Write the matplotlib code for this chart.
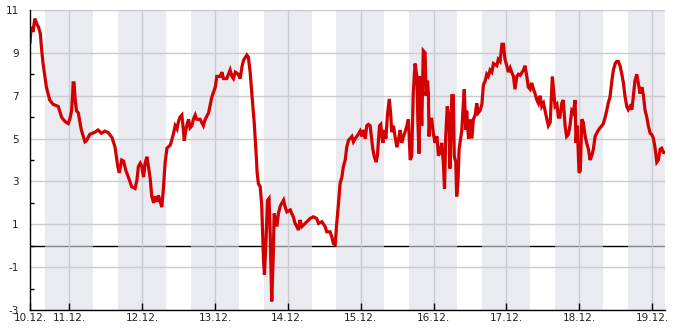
import numpy as np
import matplotlib
matplotlib.use("Agg")
import matplotlib.pyplot as plt

# hours since 10.12. 00:00 and temperature (deg C)
hours = [
    11.1, 11.5, 12.1, 12.7, 13.5, 13.9, 14.5, 14.9, 15.4, 16.5, 17.6, 18.7, 20.4, 21.5, 22.6, 23.7,
    24.2, 24.8, 25.1, 25.3, 25.6, 26.0, 26.4, 27.0, 28.0, 29.2, 29.7, 30.8, 32.5, 33.5, 34.6, 35.8,
    36.9, 38.1, 39.1, 40.0, 40.5, 41.3, 41.9, 42.7, 43.5, 44.6, 45.7, 46.3, 46.8, 47.4, 47.9, 48.5,
    49.0, 49.6, 50.1, 50.7, 51.2, 51.8, 52.3, 52.9, 53.4, 54.0, 54.5, 55.0, 55.6, 56.2, 57.3, 58.3,
    58.9, 59.5, 60.0, 60.5, 61.1, 61.6, 61.9, 62.2, 62.7, 63.3, 63.8, 64.4, 64.9, 65.5, 66.0, 67.1,
    68.2, 68.8, 69.9, 71.0, 72.1, 72.6, 73.7, 74.3, 74.8, 75.9, 77.0, 77.6, 78.1, 78.7, 79.7, 80.3,
    80.9, 81.4, 82.5, 83.0, 83.6, 84.2, 84.9, 85.6, 85.9, 86.3, 86.9, 87.4, 88.0, 88.3, 88.8, 89.3,
    89.8, 90.2, 90.7, 91.2, 91.5, 92.4, 92.9, 93.5, 94.6, 95.1, 95.7, 96.8, 97.3, 97.8, 98.4, 99.0,
    99.5, 100.0, 100.6, 101.7, 102.3, 103.3, 104.4, 105.5, 106.1, 107.2, 108.3, 108.8, 109.9, 110.5,
    111.0, 111.6, 112.1, 112.7, 113.2, 113.8, 114.3, 114.9, 115.4, 116.0, 116.5, 117.1, 117.6, 118.2,
    118.7, 119.2, 119.8, 120.4, 120.9, 121.5, 122.0, 122.5, 123.1, 124.0, 124.4, 125.1, 125.5, 125.8,
    126.2, 126.6, 127.0, 127.3, 127.7, 128.3, 128.8, 129.4, 129.9, 130.2, 130.8, 131.3, 131.9, 132.4,
    133.0, 133.5, 134.1, 134.6, 135.2, 135.7, 136.3, 136.8, 137.3, 137.9, 138.5, 138.8, 139.2, 139.6,
    140.1, 140.6, 141.2, 141.5, 142.0, 142.3, 142.5, 142.8, 143.4, 143.9, 144.5, 145.1, 145.6, 146.1,
    146.7, 147.2, 147.6, 148.0, 148.5, 149.1, 149.4, 150.0, 150.5, 150.8, 151.3, 151.6, 152.0, 152.4,
    152.7, 153.3, 153.8, 154.1, 154.6, 154.9, 155.5, 156.0, 156.6, 157.1, 157.7, 158.2, 158.7, 159.3,
    159.9, 160.4, 161.0, 161.5, 162.0, 162.6, 163.2, 163.7, 164.2, 164.8, 165.3, 165.9, 166.5, 167.0,
    167.5, 168.1, 168.6, 169.2, 169.7, 170.3, 170.8, 171.4, 171.9, 172.5, 173.6, 174.1, 174.7, 175.2,
    175.8, 176.3, 176.9, 177.4, 178.0, 178.5, 179.1, 179.6, 180.2, 180.7, 181.3, 181.8, 182.4, 182.7,
    183.1, 183.7, 184.0, 184.6, 185.1, 185.6, 186.2, 186.7, 187.3, 187.8, 188.4, 188.9, 189.5, 190.0,
    190.6, 190.9, 191.3, 191.9, 192.3, 192.8, 193.3, 193.9, 194.4, 195.0, 195.5, 196.1, 196.6, 197.2,
    197.7, 198.3, 198.8, 199.4, 199.9, 200.5, 201.0, 201.5, 202.1, 202.7, 203.2, 203.8, 204.3, 204.8,
    205.4, 206.0, 206.5, 207.0, 207.6, 208.1, 208.7, 209.3, 209.8, 210.3, 210.9, 211.4, 212.0, 212.6,
    213.1, 213.6, 214.2, 214.7, 215.3, 215.8, 216.4, 216.9, 217.5, 218.0, 218.6, 219.1, 219.7, 220.2,
]
temps = [
    9.5, 10.2, 10.0, 10.6, 10.3, 10.2, 9.9, 9.2, 8.5, 7.4, 6.8, 6.6, 6.5, 6.0, 5.8, 5.7,
    5.9, 6.3, 7.0, 7.6, 7.6, 6.8, 6.3, 6.2, 5.4, 4.85, 4.9, 5.2, 5.3, 5.4, 5.25, 5.35,
    5.27, 5.05, 4.6, 3.7, 3.4, 4.0, 3.95, 3.5, 3.2, 2.75, 2.67, 3.05, 3.7, 3.85, 3.7, 3.2,
    3.85, 4.15, 3.7, 3.1, 2.3, 2.0, 2.3, 2.05, 2.35, 2.05, 1.8, 2.6, 3.9, 4.55, 4.7, 5.2,
    5.6, 5.45, 5.8, 6.0, 6.1, 5.4, 4.9, 5.2, 5.6, 5.9, 5.5, 5.6, 5.9, 6.1, 5.9, 5.9,
    5.6, 5.9, 6.2, 6.95, 7.4, 7.9, 7.9, 8.1, 7.8, 7.8, 8.2, 7.9, 7.8, 8.1, 8.0, 7.8,
    8.35, 8.65, 8.9, 8.8, 8.1, 7.0, 5.8, 4.2, 3.4, 2.9, 2.75, 1.9, -0.7, -1.35, 0.2, 2.1,
    2.2, 0.5, -2.6, -0.5, 1.5, 0.9, 1.5, 1.85, 2.13, 1.82, 1.58, 1.67, 1.5, 1.35, 1.04, 0.89,
    0.73, 1.2, 0.89, 1.04, 1.12, 1.27, 1.35, 1.27, 1.04, 1.12, 0.89, 0.65, 0.65, 0.4,
    0.1, 0.05, 1.04, 2.0, 2.9, 3.2, 3.7, 4.0, 4.6, 4.93, 5.0, 5.1, 4.85, 5.0,
    5.1, 5.2, 5.35, 5.1, 5.4, 5.0, 5.6, 5.66, 5.6, 4.5, 4.2, 3.9, 4.2, 4.8,
    5.6, 5.66, 5.1, 4.8, 5.4, 5.0, 6.1, 6.85, 6.1, 5.3, 5.6, 5.1, 4.6, 4.9,
    5.4, 4.8, 5.1, 5.3, 5.6, 5.9, 4.0, 4.2, 7.1, 8.5, 7.9, 5.9, 4.3, 7.9,
    5.6, 9.1, 9.0, 7.0, 7.7, 7.1, 5.1, 5.9, 5.9, 5.25, 4.8, 5.1, 4.2, 4.35,
    4.8, 3.9, 2.65, 5.1, 6.5, 5.9, 3.6, 7.0, 7.0, 4.2, 3.9, 2.3, 2.9, 4.5,
    4.8, 5.4, 6.65, 7.3, 5.4, 6.3, 5.0, 5.9, 5.0, 5.9, 6.1, 6.65, 6.2, 6.3,
    6.6, 7.5, 7.7, 8.0, 7.9, 8.2, 8.1, 8.5, 8.45, 8.4, 8.7, 8.6, 9.4, 9.4,
    8.7, 8.4, 8.1, 8.3, 8.1, 7.9, 7.3, 7.9, 8.0, 7.95, 8.2, 8.4, 7.9, 7.4,
    7.3, 7.6, 7.3, 7.1, 6.8, 6.65, 7.0, 6.5, 6.65, 6.3, 5.9, 5.6, 5.75, 6.65,
    7.9, 7.0, 6.5, 6.6, 6.0, 6.0, 6.65, 6.8, 5.6, 5.1, 5.2, 5.6, 6.3, 6.2,
    6.8, 4.8, 5.6, 3.4, 3.5, 5.9, 5.75, 5.1, 4.8, 4.5, 4.0, 4.2, 4.5, 5.1,
    5.25, 5.4, 5.5, 5.6, 5.7, 6.0, 6.3, 6.65, 6.95, 7.7, 8.2, 8.5, 8.6, 8.6,
    8.4, 8.0, 7.6, 7.0, 6.5, 6.35, 6.5, 6.35, 7.0, 7.7, 8.0, 7.6, 7.1, 7.4,
    7.0, 6.35, 6.0, 5.6, 5.25, 5.2, 5.0, 4.6, 3.9, 4.0, 4.5, 4.55, 4.35, 4.35,
]

x_start, x_end = 11.1, 220.2
day_ticks = [24, 48, 72, 96, 120, 144, 168, 192, 216]
day_labels = ["11.12.", "12.12.", "13.12.", "14.12.", "15.12.", "16.12.", "17.12.", "18.12.", "19.12."]
first_label = "10.12."
night_start, night_end = 16.0, 31.8   # dark hours, repeated every 24 h
y_major = [-3, -1, 1, 3, 5, 7, 9, 11]
y_minor = [-2, 0, 2, 4, 6, 8, 10]

fig = plt.figure(figsize=(6.85, 3.30), dpi=100)
ax = fig.add_axes([30 / 685, 20 / 330, 635 / 685, 300 / 330])

ax.axhline(0, color="black", lw=1.0, zorder=0.5)
for k in range(10):
    ax.axvspan(night_start + 24 * k, night_end + 24 * k, color="#dcdee8", alpha=0.6, lw=0, zorder=1)
for v in y_major:
    ax.axhline(v, color="#cbcbcf", lw=1.0, zorder=1.5)
for d in day_ticks:
    ax.axvline(d, color="#cbcbcf", lw=1.0, zorder=1.5)

ax.plot(hours, temps, color="#d20000", lw=2.3, solid_joinstyle="miter", zorder=3)

ax.set_xlim(x_start, x_end)
ax.set_ylim(-3, 11)
ax.set_xticks([x_start] + day_ticks)
ax.set_xticklabels([first_label] + day_labels)
ax.set_yticks(y_major)
ax.set_yticklabels([str(v) for v in y_major])
ax.set_yticks(y_minor, minor=True)
ax.tick_params(axis="x", direction="in", length=5, width=1, color="black",
               labelsize=7.5, labelcolor="#222222", pad=2)
ax.tick_params(axis="y", which="major", length=0, labelsize=7.5, labelcolor="#222222", pad=8)
ax.tick_params(axis="y", which="minor", direction="in", length=3, width=1, color="black")
for s in ["top", "right"]:
    ax.spines[s].set_visible(False)
for s in ["left", "bottom"]:
    ax.spines[s].set_color("black")
    ax.spines[s].set_linewidth(1.0)
    ax.spines[s].set_zorder(4)

fig.savefig("out.png", dpi=100)
